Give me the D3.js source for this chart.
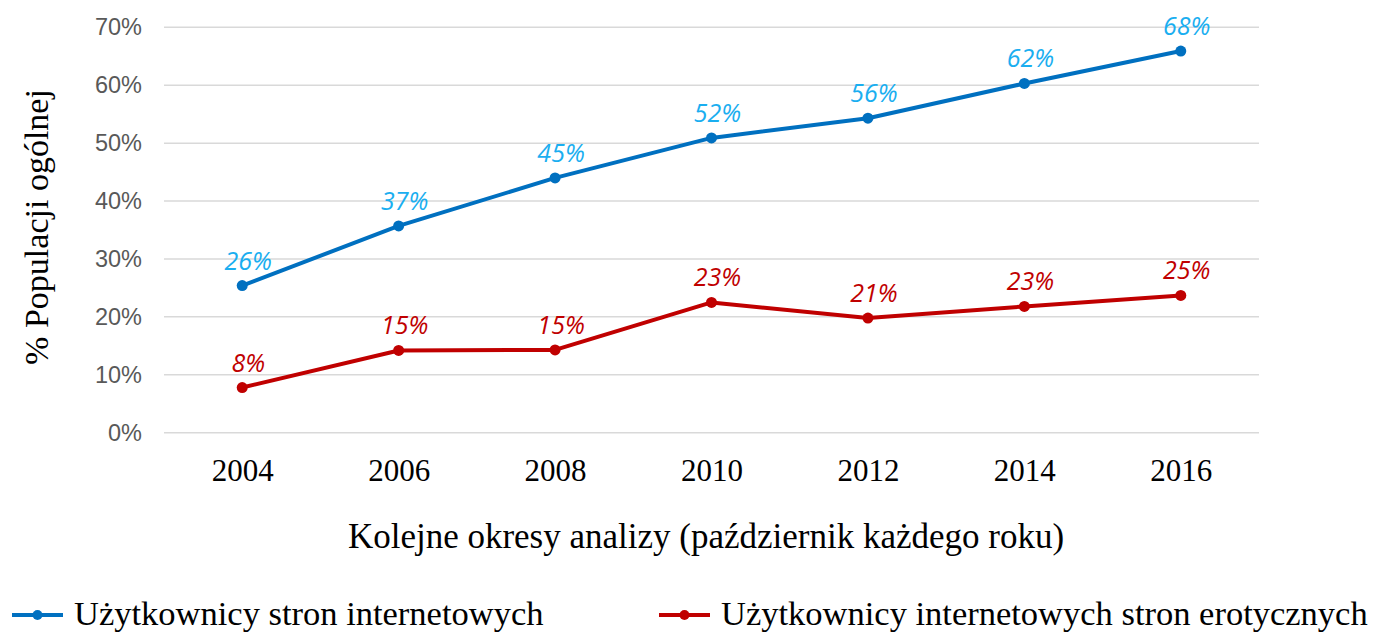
<!DOCTYPE html>
<html>
<head>
<meta charset="utf-8">
<script src="https://cdn.jsdelivr.net/npm/d3@7"></script>
<style>
  body { margin: 0; background: #fff; }
  svg { display: block; }
</style>
</head>
<body>
<div class="chart"></div>
<script>
// data
var years = ["2004", "2006", "2008", "2010", "2012", "2014", "2016"];
var internetUsers = [25.4, 35.7, 44.0, 50.9, 54.3, 60.3, 65.9];
var internetLabels = ["26%", "37%", "45%", "52%", "56%", "62%", "68%"];
var eroticUsers = [7.8, 14.2, 14.3, 22.5, 19.8, 21.8, 23.7];
var eroticLabels = ["8%", "15%", "15%", "23%", "21%", "23%", "25%"];
var yTicks = [0, 10, 20, 30, 40, 50, 60, 70];
var seriesNames = ["Użytkownicy stron internetowych", "Użytkownicy internetowych stron erotycznych"];

var svgWidth = 1379;
var svgHeight = 633;

var margin = { top: 27.3, right: 120, bottom: 200.3, left: 164 };
var width = svgWidth - margin.left - margin.right;
var height = svgHeight - margin.top - margin.bottom;

var svg = d3.select(".chart")
  .append("svg")
  .attr("width", svgWidth)
  .attr("height", svgHeight);

var chartGroup = svg.append("g")
  .attr("transform", `translate(${margin.left}, ${margin.top})`);

var xScale = d3.scalePoint()
  .domain(years)
  .range([0, width])
  .padding(0.5);

var yScale = d3.scaleLinear()
  .domain([0, 70])
  .range([height, 0]);

// gridlines
chartGroup.selectAll(".grid")
  .data(yTicks)
  .enter()
  .append("line")
  .attr("x1", 0)
  .attr("x2", width)
  .attr("y1", d => yScale(d))
  .attr("y2", d => yScale(d))
  .attr("stroke", "#d9d9d9")
  .attr("stroke-width", 1.5);

// y axis labels
var leftAxis = d3.axisLeft(yScale)
  .tickValues(yTicks)
  .tickFormat(d => d + "%")
  .tickSize(0)
  .tickPadding(22);

var yAxis = chartGroup.append("g").call(leftAxis);
yAxis.select(".domain").remove();
yAxis.selectAll("text")
  .attr("fill", "#595959")
  .style("font-family", "'Liberation Sans', Arial, sans-serif")
  .style("font-size", "23.5px");

// x axis labels
var bottomAxis = d3.axisBottom(xScale)
  .tickSize(0)
  .tickPadding(0);

var xAxis = chartGroup.append("g")
  .attr("transform", `translate(0, ${height})`)
  .call(bottomAxis);
xAxis.select(".domain").remove();
xAxis.selectAll("text")
  .attr("fill", "#000")
  .attr("dy", null)
  .attr("y", 48)
  .style("font-family", "'Liberation Serif', 'Times New Roman', serif")
  .style("font-size", "31px");

// axis titles
svg.append("text")
  .attr("transform", "rotate(-90)")
  .attr("x", -227)
  .attr("y", 48)
  .attr("text-anchor", "middle")
  .style("font-family", "'Liberation Serif', 'Times New Roman', serif")
  .style("font-size", "34px")
  .text("% Populacji ogólnej");

svg.append("text")
  .attr("x", 706)
  .attr("y", 548)
  .attr("text-anchor", "middle")
  .style("font-family", "'Liberation Serif', 'Times New Roman', serif")
  .style("font-size", "35px")
  .text("Kolejne okresy analizy (październik każdego roku)");

var series = [
  { values: internetUsers, labels: internetLabels, line: "#0070c0", text: "#1aaef0" },
  { values: eroticUsers, labels: eroticLabels, line: "#c00000", text: "#c00000" }
];

var lineGen = d3.line()
  .x((d, i) => xScale(years[i]))
  .y(d => yScale(d));

series.forEach(function(s) {
  chartGroup.append("path")
    .datum(s.values)
    .attr("d", lineGen)
    .attr("fill", "none")
    .attr("stroke", s.line)
    .attr("stroke-width", 4)
    .attr("stroke-linejoin", "round");

  chartGroup.selectAll(null)
    .data(s.values)
    .enter()
    .append("circle")
    .attr("cx", (d, i) => xScale(years[i]))
    .attr("cy", d => yScale(d))
    .attr("r", 5.5)
    .attr("fill", s.line);

  chartGroup.selectAll(null)
    .data(s.values)
    .enter()
    .append("text")
    .attr("x", (d, i) => xScale(years[i]) + 6)
    .attr("y", d => yScale(d) - 16)
    .attr("text-anchor", "middle")
    .attr("fill", s.text)
    .style("font-family", "'Open Sans', sans-serif")
    .style("font-style", "italic")
    .style("font-size", "25px")
    .text((d, i) => s.labels[i]);
});

// legend
var legendX = [12, 659];
series.forEach(function(s, i) {
  var g = svg.append("g")
    .attr("transform", `translate(${legendX[i]}, 615)`);
  g.append("line")
    .attr("x1", 0)
    .attr("x2", 51)
    .attr("stroke", s.line)
    .attr("stroke-width", 4);
  g.append("circle")
    .attr("cx", 25.5)
    .attr("r", 5)
    .attr("fill", s.line);
  g.append("text")
    .attr("x", 62)
    .attr("y", 10)
    .style("font-family", "'Liberation Serif', 'Times New Roman', serif")
    .style("font-size", "34.5px")
    .text(seriesNames[i]);
});
</script>
</body>
</html>
